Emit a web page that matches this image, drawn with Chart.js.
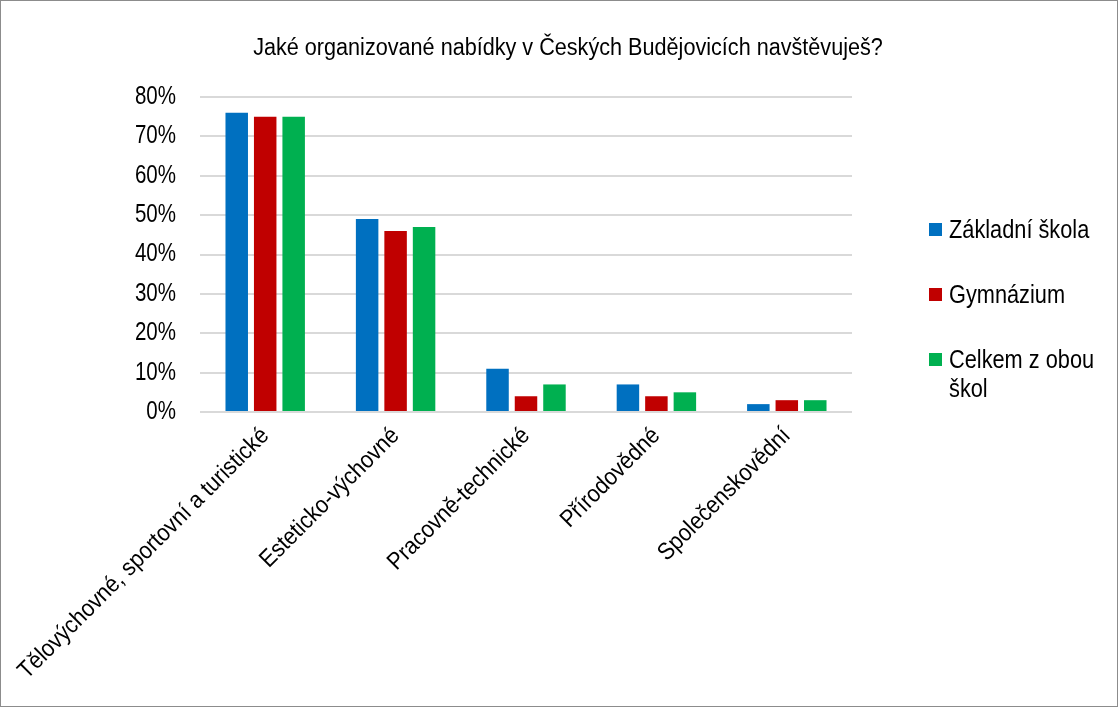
<!DOCTYPE html>
<html>
<head>
<meta charset="utf-8">
<script src="https://cdn.jsdelivr.net/npm/chart.js@4"></script>
<style>
  html, body { margin: 0; padding: 0; background: #fff; }
  #wrap { position: relative; width: 1118px; height: 707px; box-sizing: border-box; border: 1px solid #8c8c8c; overflow: hidden; }
  #c { position: absolute; left: 0; top: 0; }
  #title { position: absolute; left: 0; width: 1134px; top: 32px; text-align: center; font-family: 'Liberation Sans', Arial, sans-serif; font-size: 23px; line-height: 28px; color: #000; transform: scaleX(0.94); transform-origin: 567px 0; white-space: nowrap; }
  #legend { position: absolute; left: 928px; top: 214px; font-family: 'Liberation Sans', Arial, sans-serif; font-size: 25px; color: #000; }
  .item { position: relative; padding-left: 20px; line-height: 29px; }
  .item .sw { position: absolute; left: 0; top: 8px; width: 13px; height: 13px; }
  .item .tx { display: inline-block; width: 195px; transform: scaleX(0.87); transform-origin: 0 0; }
</style>
</head>
<body>
<div id="wrap">
  <canvas id="c" width="1116" height="705"></canvas>
  <div id="title"></div>
  <div id="legend"></div>
</div>
<script>
const title = 'Jaké organizované nabídky v Českých Budějovicích navštěvuješ?';
const categories = ['Tělovýchovné, sportovní a turistické', 'Esteticko-výchovné', 'Pracovně-technické', 'Přírodovědné', 'Společenskovědní'];
const seriesNames = ['Základní škola', 'Gymnázium', 'Celkem z obou škol'];
const zakladniSkola = [76, 49, 11, 7, 2];
const gymnazium = [75, 46, 4, 4, 3];
const celkem = [75, 47, 7, 5, 3];
const colors = ['#0070C0', '#C00000', '#00B050'];
const yTicksMax = 80;
const yTickStep = 10;

const FONT = "'Liberation Sans', Arial, sans-serif";
const values = [zakladniSkola, gymnazium, celkem];

document.getElementById('title').textContent = title;

const datasets = seriesNames.map((n, i) => ({
  label: n,
  data: values[i],
  backgroundColor: colors[i],
  borderWidth: 0,
  categoryPercentage: 0.655,
  barPercentage: 0.79
}));

// HTML legend (allows wrapping like the original)
const leg = document.getElementById('legend');
const gaps = [0, 36, 36];
seriesNames.forEach((n, i) => {
  const d = document.createElement('div');
  d.className = 'item';
  d.style.marginTop = gaps[i] + 'px';
  const sw = document.createElement('span');
  sw.className = 'sw';
  sw.style.background = colors[i];
  const tx = document.createElement('span');
  tx.className = 'tx';
  tx.textContent = n;
  d.appendChild(sw);
  d.appendChild(tx);
  leg.appendChild(d);
});

// narrow-font imitation: condense canvas text horizontally
const condense = {
  id: 'condense',
  beforeDraw(chart) {
    const ctx = chart.ctx;
    if (ctx.__condensed) return;
    ctx.__condensed = true;
    const orig = ctx.fillText;
    ctx.fillText = function (text, x, y, maxW) {
      const m = /(\d+(?:\.\d+)?)px/.exec(this.font);
      const size = m ? parseFloat(m[1]) : 0;
      const f = size === 25 ? 0.82 : (size === 24 ? 0.9 : 1);
      this.save();
      this.translate(x, y);
      this.scale(f, 1);
      orig.call(this, text, 0, 0);
      this.restore();
    };
  }
};

new Chart(document.getElementById('c'), {
  type: 'bar',
  data: { labels: categories, datasets },
  plugins: [condense],
  options: {
    responsive: false,
    animation: false,
    devicePixelRatio: 1,
    layout: { padding: { left: 0, right: 265, top: 96, bottom: 0 } },
    plugins: {
      legend: { display: false },
      tooltip: { enabled: false },
      title: { display: false }
    },
    scales: {
      x: {
        grid: { display: false },
        border: { display: false },
        ticks: {
          color: '#000',
          font: { family: FONT, size: 24 },
          minRotation: 45,
          maxRotation: 45,
          autoSkip: false,
          padding: 2
        },
        afterFit: s => { s.height = 294; s.paddingLeft = 0; s.paddingRight = 0; }
      },
      y: {
        min: 0,
        max: yTicksMax,
        ticks: {
          stepSize: yTickStep,
          color: '#000',
          font: { family: FONT, size: 25 },
          padding: 24,
          callback: v => v + '%'
        },
        grid: { color: '#d9d9d9', lineWidth: 2, drawTicks: false },
        border: { display: false },
        afterFit: s => { s.width = 199; }
      }
    }
  }
});
</script>
</body>
</html>
